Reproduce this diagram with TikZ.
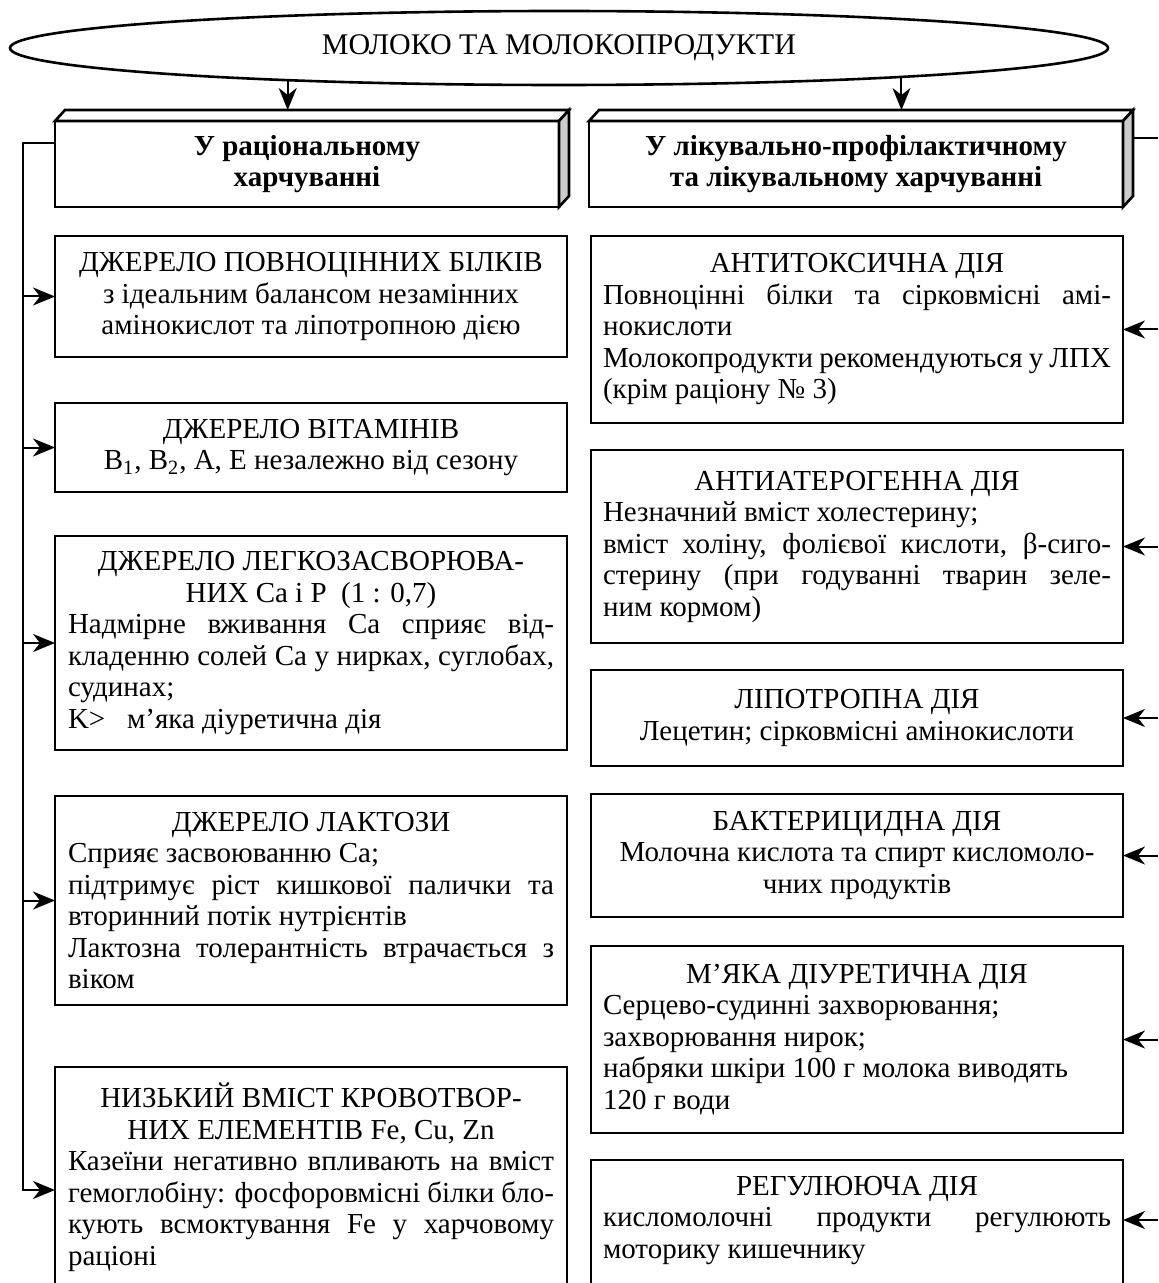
\documentclass[tikz,border=0pt]{standalone}
\usepackage{fontspec}
\setmainfont{Liberation Serif}
\usetikzlibrary{shapes.geometric,arrows.meta,calc}
\setlength\parindent{0pt}
\setlength\parskip{0pt}
\newcommand\bodyfont{\fontsize{14.5}{15.75}\selectfont}
\newcommand\natsp{\spaceskip=0pt\xspaceskip=0pt\relax}
\newcommand\lnC[1]{{\natsp\makebox[\hsize][c]{#1}}\par}
\newcommand\lnJ[1]{{\natsp\makebox[\hsize][s]{#1}}\par}
\newcommand\lnL[1]{{\natsp\makebox[\hsize][l]{#1}}\par}
\tikzset{
  boxline/.style={line width=1.3pt},
  conn/.style={line width=1pt},
  arr/.style={conn, -{Stealth[length=11pt,width=9pt,inset=3.5pt]}},
  lbox/.style={draw, boxline, fill=white, anchor=north west, outer sep=0pt, align=justify,
    text width=243pt, inner xsep=6.5pt, inner ysep=0pt, font=\bodyfont},
  rbox/.style={draw, boxline, fill=white, anchor=north west, outer sep=0pt, align=justify,
    text width=254pt, inner xsep=6pt, inner ysep=0pt, font=\bodyfont},
  hbox/.style={draw, boxline, fill=white, anchor=north west, outer sep=0pt,
    minimum height=43pt, align=center, font=\fontsize{14.5}{15.75}\selectfont\bfseries},
  titleell/.style={ellipse, draw, line width=1.3pt, fill=white, inner sep=0pt,
    minimum width=549pt, minimum height=37pt, font=\fontsize{15}{18}\selectfont},
  sideface/.style={boxline, fill=gray!40},
  topface/.style={boxline, fill=white}
}
\begin{document}
\begin{tikzpicture}[x=0.5pt,y=-0.5pt]
\useasboundingbox (0,0) rectangle (1158,1283);
\clip (0,0) rectangle (1158,1283);
\fill[white] (0,0) rectangle (1158,1283);

% title
\node[titleell] (title) at (559,48) {\natsp МОЛОКО ТА МОЛОКОПРОДУКТИ};

% headers
\node[hbox, minimum width=252pt] (hl) at (55,121) {\natsp У раціональному\\харчуванні};
\node[hbox, minimum width=267pt] (hr) at (589,121) {\natsp У лікувально-профілактичному\\та лікувальному харчуванні};

% left column
\node[lbox, minimum height=60.5pt] (l1) at (55,236) {%
\lnC{ДЖЕРЕЛО ПОВНОЦІННИХ БІЛКІВ}%
\lnC{з ідеальним балансом незамінних}%
\lnC{амінокислот та ліпотропною дією}};
\node[lbox, minimum height=44.5pt] (l2) at (55,403) {%
\lnC{ДЖЕРЕЛО ВІТАМІНІВ}%
\lnC{B\textsubscript{1}, B\textsubscript{2}, A, E незалежно від сезону}};
\node[lbox, minimum height=107pt] (l3) at (55,536) {%
\lnC{ДЖЕРЕЛО ЛЕГКОЗАСВОРЮВА-}%
\lnC{НИХ Ca і P\ \ (1 : 0,7)}%
\lnJ{Надмірне вживання Ca сприяє від-}%
\lnJ{кладенню солей Ca у нирках, суглобах,}%
\lnL{судинах;}%
\lnL{K>\ \ \ м’яка діуретична дія}};
\node[lbox, minimum height=104.5pt] (l4) at (55,796) {%
\lnC{ДЖЕРЕЛО ЛАКТОЗИ}%
\lnL{Сприяє засвоюванню Ca;}%
\lnJ{підтримує ріст кишкової палички та}%
\lnL{вторинний потік нутрієнтів}%
\lnJ{Лактозна толерантність втрачається з}%
\lnL{віком}};
\node[lbox, draw=none, fill=none, inner ysep=8pt] (l5) at (55,1067) {%
\lnC{НИЗЬКИЙ ВМІСТ КРОВОТВОР-}%
\lnC{НИХ ЕЛЕМЕНТІВ Fe, Cu, Zn}%
\lnJ{Казеїни негативно впливають на вміст}%
\lnJ{гемоглобіну: фосфоровмісні білки бло-}%
\lnJ{кують всмоктування Fe у харчовому}%
\lnL{раціоні}};
\draw[boxline] (l5.north west) rectangle ($(l5.south east)+(0,60)$);

% right column
\node[rbox, minimum height=93.5pt] (r1) at (591,236) {%
\lnC{АНТИТОКСИЧНА ДІЯ}%
\lnJ{Повноцінні білки та сірковмісні амі-}%
\lnL{нокислоти}%
\lnJ{Молокопродукти рекомендуються у ЛПХ}%
\lnL{(крім раціону № 3)}};
\node[rbox, minimum height=96.5pt] (r2) at (591,450) {%
\lnC{АНТИАТЕРОГЕННА ДІЯ}%
\lnL{Незначний вміст холестерину;}%
\lnJ{вміст холіну, фолієвої кислоти, β-сиго-}%
\lnJ{стерину (при годуванні тварин зеле-}%
\lnL{ним кормом)}};
\node[rbox, minimum height=48pt] (r3) at (591,670) {%
\lnC{ЛІПОТРОПНА ДІЯ}%
\lnC{Лецетин; сірковмісні амінокислоти}};
\node[rbox, minimum height=61.5pt] (r4) at (591,794) {%
\lnC{БАКТЕРИЦИДНА ДІЯ}%
\lnC{Молочна кислота та спирт кисломоло-}%
\lnC{чних продуктів}};
\node[rbox, minimum height=93.5pt] (r5) at (591,946) {%
\lnC{М’ЯКА ДІУРЕТИЧНА ДІЯ}%
\lnL{Серцево-судинні захворювання;}%
\lnL{захворювання нирок;}%
\lnL{набряки шкіри 100 г молока виводять}%
\lnL{120 г води}};
\node[rbox, draw=none, fill=none, inner ysep=8pt] (r6) at (591,1160) {%
\lnC{РЕГУЛЮЮЧА ДІЯ}%
\lnJ{кисломолочні продукти регулюють}%
\lnL{моторику кишечнику}};
\draw[boxline] (r6.north west) rectangle ($(r6.south east)+(0,60)$);

% connectors: left trunk
\coordinate (ltop) at (23,143);
\coordinate (l5in) at ($(l5.north west)+(0,123)$);
\draw[arr] (hl.west |- ltop) -- (ltop) -- (ltop |- l5in) -- (l5in);
\foreach \n in {l1,l2,l3,l4} \draw[arr] (ltop |- \n.west) -- (\n.west);

% connectors: right trunk (beyond the right edge)
\coordinate (rtop) at (1158,138);
\draw[conn] (hr.east |- rtop) -- (rtop);
\foreach \n in {r1,r2,r3,r4,r5} \draw[arr] (rtop |- \n.east) -- (\n.east);
\coordinate (r6in) at ($(r6.north east)+(0,60)$);
\draw[arr] (rtop |- r6in) -- (r6in);

% 3D faces of the headers
\foreach \n in {hl,hr} {
  \draw[topface] (\n.north west) -- ++(10,-11) -- ($(\n.north east)+(10,-11)$) -- (\n.north east) -- cycle;
  \draw[sideface] (\n.north east) -- ++(10,-11) -- ($(\n.south east)+(10,-11)$) -- (\n.south east) -- cycle;
}
\coordinate (hltop) at ($(hl.north)+(0,-11)$);
\coordinate (hrtop) at ($(hr.north)+(0,-11)$);

% arrows from title
\draw[arr] (title.187.07) -- (title.187.07 |- hltop);
\draw[arr] (title.355.46) -- (title.355.46 |- hrtop);
\end{tikzpicture}
\end{document}
